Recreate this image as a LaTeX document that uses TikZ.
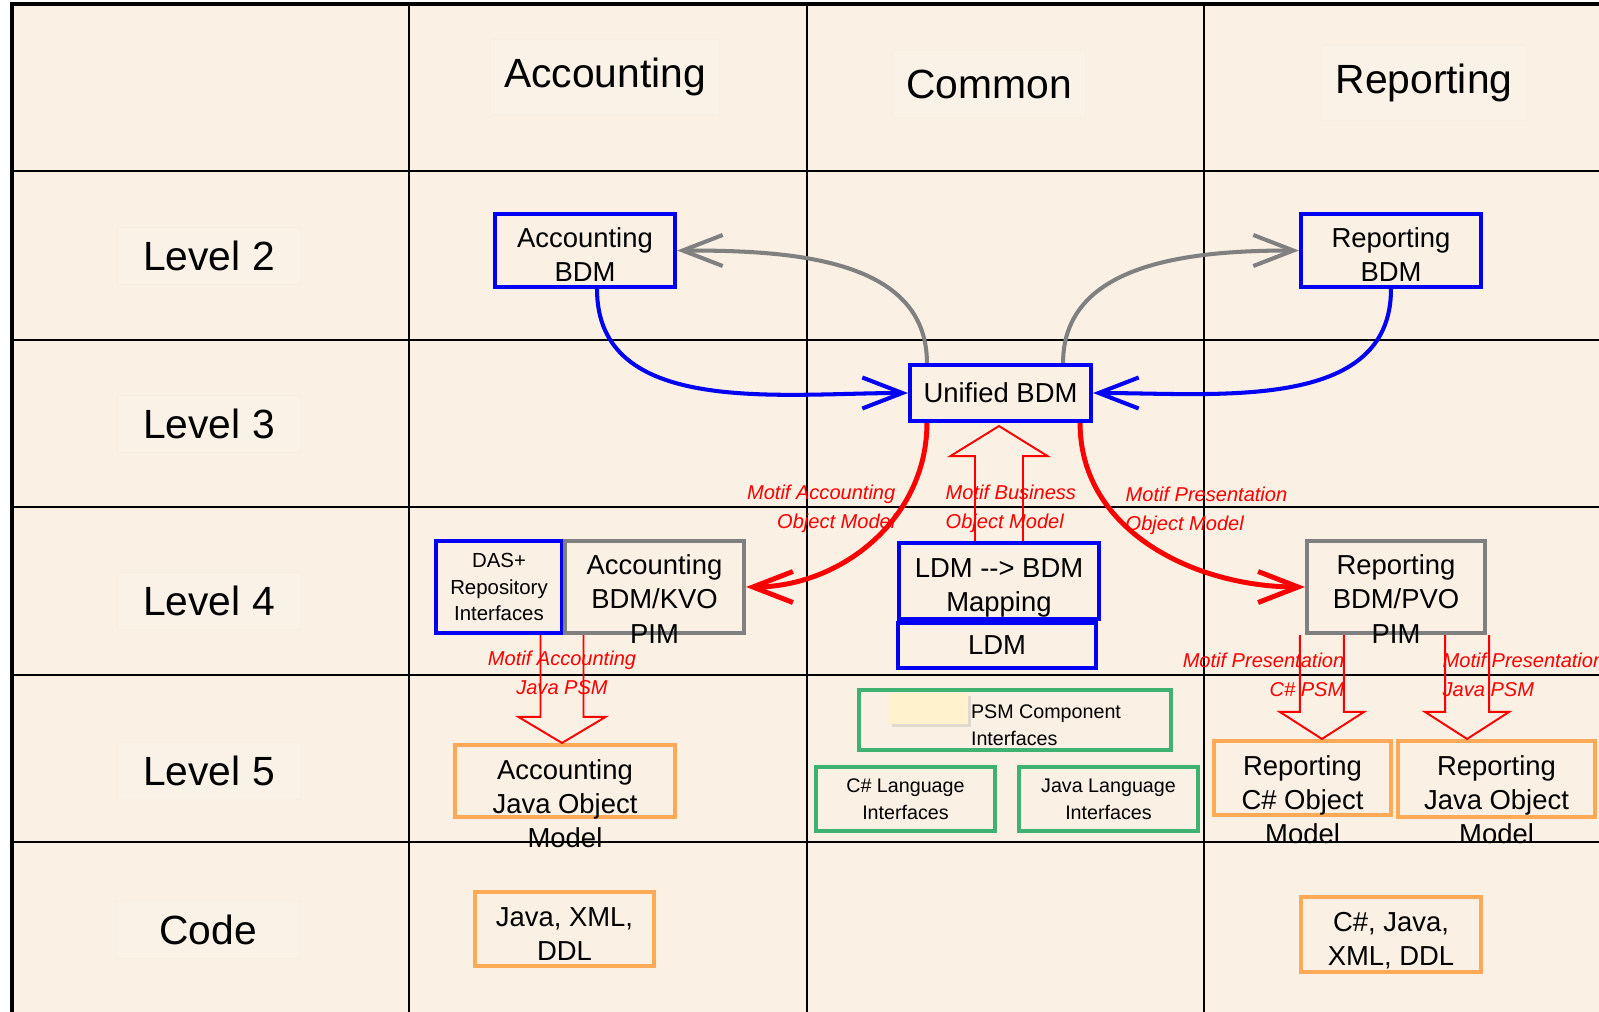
\documentclass[tikz,border=0pt]{standalone}
\usepackage{fontspec}
\setmainfont{Liberation Sans}
\usepackage{tikz}
\usetikzlibrary{calc, positioning, arrows.meta, shadows}
\definecolor{paper}{RGB}{250,240,228}
\definecolor{faint}{RGB}{251,242,231}
\definecolor{faintedge}{RGB}{248,238,226}
\definecolor{mblue}{RGB}{0,0,245}
\definecolor{mgray}{RGB}{128,128,128}
\definecolor{mred}{RGB}{250,0,0}
\definecolor{morange}{RGB}{252,170,88}
\definecolor{mgreen}{RGB}{62,178,112}
\definecolor{note}{RGB}{255,242,204}
\tikzset{>={Straight Barb[length=4mm,width=3.1mm]}}
\tikzset{
	gridline/.style={line width=0.7pt, black},
	borderline/.style={line width=1pt, black},
	hdrlabel/.style={fill=faint, draw=faintedge, line width=0.3pt, inner xsep=0.14cm, inner ysep=0.19cm, font=\fontsize{11.6}{14}\selectfont},
	levellabel/.style={fill=faint, draw=faintedge, line width=0.3pt, minimum width=1.82cm, minimum height=0.57cm, font=\fontsize{11.6}{14}\selectfont},
	basebox/.style={draw, line width=1.15pt, inner sep=0pt, align=center, font=\fontsize{7.8}{9.7}\selectfont},
	bluebox/.style={basebox, draw=mblue},
	graybox/.style={basebox, draw=mgray},
	orangebox/.style={basebox, draw=morange},
	greenbox/.style={basebox, draw=mgreen, font=\fontsize{5.6}{7.7}\selectfont},
	boxtext/.style={align=center, inner sep=0pt, font=\fontsize{7.8}{9.7}\selectfont},
	motif/.style={text=mred, align=center, inner sep=0pt, font=\fontsize{5.7}{8.4}\selectfont\itshape},
	grayarrow/.style={mgray, line width=1.15pt},
	bluearrow/.style={mblue, line width=1.15pt},
	redarrow/.style={mred, line width=1.4pt},
	hollow/.style={mred, line width=0.55pt},
}
% #1 start, #2 tip, #3 head length (signed), #4 shaft half width, #5 head half width
\newcommand{\hollowarrow}[5]{%
	\draw[hollow] let \p1=(#1), \p2=(#2) in
		(\x1-#4,\y1) -- (\x1-#4,\y2#3) -- (\x1-#5,\y2#3) -- (\x1,\y2)
		-- (\x1+#5,\y2#3) -- (\x1+#4,\y2#3) -- (\x1+#4,\y1);}

\begin{document}
\begin{tikzpicture}[x=0.01cm,y=-0.01cm]
	\useasboundingbox (0,0) rectangle (1599,1012);
	\fill[paper] (12,4) rectangle (1599,1012);
	\draw[gridline] (409,4) -- (409,1012);
	\draw[gridline] (807,4) -- (807,1012);
	\draw[gridline] (1204,4) -- (1204,1012);
	\draw[gridline] (12,171) -- (1599,171);
	\draw[gridline] (12,340) -- (1599,340);
	\draw[gridline] (12,507) -- (1599,507);
	\draw[gridline] (12,675) -- (1599,675);
	\draw[gridline] (12,842) -- (1599,842);
	\draw[borderline] (1599,4) -- (12,4) -- (12,1012);

	\node[hdrlabel] (acchdr) at (605,77) {Accounting};
	\node[hdrlabel] (comhdr) at (989,84) {Common};
	\node[hdrlabel] (rephdr) at (1424,83) {Reporting};
	\node[levellabel] (lvtwo) at (209,256) {Level 2};
	\node[levellabel] (lvthree) at (209,424) {Level 3};
	\node[levellabel] (lvfour) at (209,601) {Level 4};
	\node[levellabel] (lvfive) at (209,771) {Level 5};
	\node[levellabel] (lvcode) at (208,930) {Code};

	\node[bluebox, minimum width=1.80cm, minimum height=0.73cm, label={[boxtext, yshift=-0.04cm]center:{Accounting\\BDM}}] (accbdm) at (585,250.5) {};
	\node[bluebox, minimum width=1.80cm, minimum height=0.73cm, label={[boxtext, yshift=-0.04cm]center:{Reporting\\BDM}}] (repbdm) at (1391,250.5) {};
	\node[bluebox, minimum width=1.81cm, minimum height=0.56cm] (unified) at (1000.5,393) {Unified BDM};

	\node[bluebox, minimum width=1.26cm, minimum height=0.92cm, font=\fontsize{5.8}{7.5}\selectfont] (das) at (499,587) {DAS+\\Repository\\Interfaces};
	\node[graybox, minimum width=1.79cm, minimum height=0.92cm, label={[boxtext, yshift=-0.12cm]center:{Accounting\\BDM/KVO\\PIM}}] (accpim) at (654.5,587) {};
	\node[graybox, minimum width=1.78cm, minimum height=0.92cm, label={[boxtext, yshift=-0.12cm]center:{Reporting\\BDM/PVO\\PIM}}] (reppim) at (1396,587) {};
	\node[bluebox, minimum width=2.00cm, minimum height=0.76cm, label={[boxtext, yshift=-0.07cm]center:{LDM -{}-> BDM\\Mapping}}] (ldmmap) at (999,581) {};
	\node[bluebox, minimum width=1.98cm, minimum height=0.45cm] (ldm) at (997,645.5) {LDM};

	\node[greenbox, minimum width=3.12cm, minimum height=0.60cm] (psm) at (1015,720) {};
	\fill[note, drop shadow={shadow xshift=0.03cm, shadow yshift=-0.03cm, opacity=0.2}] (889,693) rectangle (968,724);
	\node[greenbox, draw=none, anchor=west, align=left] (psmtext) at (969,725) {PSM Component\\Interfaces};
	\node[greenbox, minimum width=1.79cm, minimum height=0.64cm] (cslang) at (905.5,799) {C\# Language\\Interfaces};
	\node[greenbox, minimum width=1.79cm, minimum height=0.64cm] (javalang) at (1108.5,799) {Java Language\\Interfaces};

	\node[orangebox, minimum width=2.20cm, minimum height=0.72cm, label={[boxtext, yshift=-0.23cm]center:{Accounting\\Java Object\\Model}}] (accjava) at (565,781) {};
	\node[orangebox, minimum width=1.77cm, minimum height=0.74cm, label={[boxtext, yshift=-0.22cm]center:{Reporting\\C\# Object\\Model}}] (repcs) at (1302.5,778) {};
	\node[orangebox, minimum width=1.97cm, minimum height=0.76cm, label={[boxtext, yshift=-0.21cm]center:{Reporting\\Java Object\\Model}}] (repjava) at (1496.5,779) {};
	\node[orangebox, minimum width=1.79cm, minimum height=0.74cm, label={[boxtext, yshift=-0.05cm]center:{Java, XML,\\DDL}}] (acccode) at (564.5,929) {};
	\node[orangebox, minimum width=1.80cm, minimum height=0.75cm, label={[boxtext, yshift=-0.06cm]center:{C\#, Java,\\XML, DDL}}] (repcode) at (1391,934.5) {};

	\draw[grayarrow,->] ([xshift=0.19cm]unified.north west) to[out=90,in=0] (accbdm.east);
	\draw[grayarrow,->] ([xshift=-0.3cm]unified.north east) to[out=90,in=180] (repbdm.west);
	\draw[bluearrow,->] ([xshift=0.12cm]accbdm.south) to[out=-90,in=180] (unified.west);
	\draw[bluearrow,->] (repbdm.south) to[out=-90,in=0] (unified.east);
	\draw[redarrow,->] ([xshift=0.19cm]unified.south west) to[out=-90,in=0] (accpim.east);
	\draw[redarrow,->] ([xshift=-0.13cm]unified.south east) to[out=-90,in=180] (reppim.west);

	\coordinate (ldmtip) at ($(ldmmap.north |- unified.south)+(0,3)$);
	\hollowarrow{ldmmap.north}{ldmtip}{-0.3cm}{0.24cm}{0.485cm}
	\coordinate (acctop) at ($(accjava.north |- das.south)+(-3,0)$);
	\coordinate (acctip) at (acctop |- accjava.north);
	\hollowarrow{acctop}{acctip}{+0.26cm}{0.215cm}{0.435cm}
	\coordinate (cstop) at ($(reppim.south west)+(17,0)$);
	\coordinate (cstip) at (cstop |- repcs.north);
	\hollowarrow{cstop}{cstip}{+0.27cm}{0.22cm}{0.42cm}
	\coordinate (jvtop) at ($(reppim.south east)+(-20,0)$);
	\coordinate (jvtip) at (jvtop |- repjava.north);
	\hollowarrow{jvtop}{jvtip}{+0.27cm}{0.22cm}{0.42cm}

	\node[motif, anchor=east, align=right] (moaccobj) at (896,509) {Motif Accounting\\Object Model};
	\node[motif, anchor=west, align=left] (mobusobj) at (945,509) {Motif Business\\Object Model};
	\node[motif, anchor=west, align=left] (mopresobj) at (1125,511) {Motif Presentation\\Object Model};
	\node[motif] (moaccpsm) at (562,673) {Motif Accounting\\Java PSM};
	\node[motif, anchor=east, align=right] (mocspsm) at (1345,675) {Motif Presentation\\C\# PSM};
	\node[motif, anchor=west, align=left] (mojavapsm) at (1442,675) {Motif Presentation\\Java PSM};
\end{tikzpicture}
\end{document}
